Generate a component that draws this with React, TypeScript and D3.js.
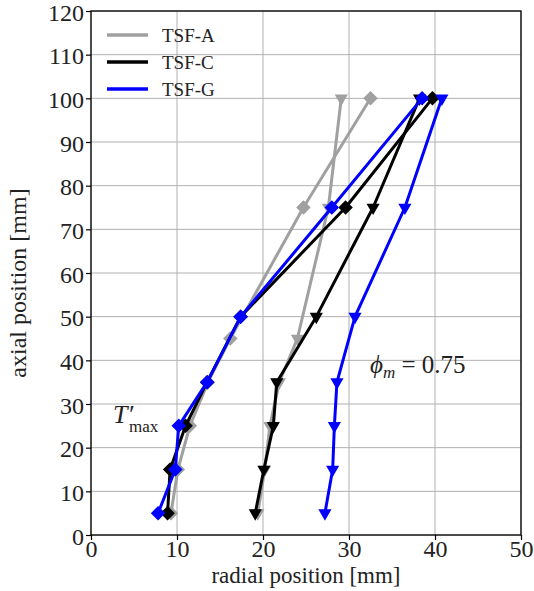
import React, { useRef, useEffect } from "react";
import * as d3 from "d3";

// axial positions [mm]
const axialA = [5, 15, 25, 35, 45, 75, 100];
const axialCG = [5, 15, 25, 35, 50, 75, 100];

// radial positions [mm], diamond = one curve, triangle = the other
const tsfA_diamond = [9.3, 10.1, 11.5, 13.6, 16.2, 24.7, 32.5];
const tsfA_triangle = [19.4, 20.2, 20.8, 21.9, 24.0, 27.6, 29.1];
const tsfC_diamond = [8.9, 9.2, 11.0, 13.5, 17.4, 29.6, 39.7];
const tsfC_triangle = [19.1, 20.1, 21.2, 21.6, 26.2, 32.8, 38.2];
const tsfG_diamond = [7.8, 9.8, 10.2, 13.5, 17.4, 28.0, 38.5];
const tsfG_triangle = [27.2, 28.1, 28.3, 28.6, 30.7, 36.5, 40.8];

const legendNames = ["TSF-A", "TSF-C", "TSF-G"];
const colors = ["#a0a0a0", "#000000", "#0000ff"];
const xTicks = [0, 10, 20, 30, 40, 50];
const yTicks = [0, 10, 20, 30, 40, 50, 60, 70, 80, 90, 100, 110, 120];

const W = 534;
const H = 591;
const margin = { left: 91, right: 13, top: 11, bottom: 56 };
const font = "Liberation Serif, Times New Roman, DejaVu Serif, serif";

const App = () => {
  const svgRef = useRef(null);

  useEffect(() => {
    const svg = d3.select(svgRef.current);
    svg.selectAll("*").remove();

    const x = d3.scaleLinear().domain([0, 50]).range([margin.left, W - margin.right]);
    const y = d3.scaleLinear().domain([0, 120]).range([H - margin.bottom, margin.top]);

    // grid
    const grid = svg.append("g").attr("stroke", "#b0b0b0").attr("stroke-width", 1);
    xTicks.forEach((t) => {
      grid.append("line").attr("x1", x(t)).attr("x2", x(t)).attr("y1", y(0)).attr("y2", y(120));
    });
    yTicks.forEach((t) => {
      grid.append("line").attr("x1", x(0)).attr("x2", x(50)).attr("y1", y(t)).attr("y2", y(t));
    });

    const series = [
      { c: colors[0], ys: axialA, d: tsfA_diamond, t: tsfA_triangle },
      { c: colors[1], ys: axialCG, d: tsfC_diamond, t: tsfC_triangle },
      { c: colors[2], ys: axialCG, d: tsfG_diamond, t: tsfG_triangle },
    ];

    const line = d3
      .line()
      .x((d) => x(d[0]))
      .y((d) => y(d[1]));

    const diamond = d3.symbol().type(d3.symbolSquare).size(105);
    const tri = d3.symbol().type(d3.symbolTriangle).size(75);

    series.forEach((s) => {
      [
        { vals: s.t, sym: tri, rot: 180 },
        { vals: s.d, sym: diamond, rot: 45 },
      ].forEach((curve) => {
        const pts = curve.vals.map((v, i) => [v, s.ys[i]]);
        svg
          .append("path")
          .datum(pts)
          .attr("d", line)
          .attr("fill", "none")
          .attr("stroke", s.c)
          .attr("stroke-width", 3)
          .attr("stroke-linejoin", "round");
        svg
          .append("g")
          .selectAll("path")
          .data(pts)
          .enter()
          .append("path")
          .attr("d", curve.sym)
          .attr("fill", s.c)
          .attr("transform", (d) => `translate(${x(d[0])},${y(d[1])}) rotate(${curve.rot})`);
      });
    });

    // axes
    const xAxis = d3.axisBottom(x).tickValues(xTicks).tickSize(5).tickPadding(0);
    const yAxis = d3.axisLeft(y).tickValues(yTicks).tickSize(5).tickPadding(2);

    const gx = svg.append("g").attr("transform", `translate(0, ${y(0)})`).call(xAxis);
    const gy = svg.append("g").attr("transform", `translate(${x(0)}, 0)`).call(yAxis);
    [gx, gy].forEach((g) => {
      g.attr("font-family", null).attr("font-size", null);
      g.select(".domain").remove();
      g.selectAll("line").attr("stroke", "#000").attr("stroke-width", 1.2);
      g.selectAll("text")
        .style("font-family", font)
        .style("font-size", "24px")
        .attr("fill", "#222");
    });
    gx.selectAll("text").attr("dy", "0.72em");
    gy.selectAll("text").attr("dy", "0.38em");

    svg
      .append("rect")
      .attr("x", x(0))
      .attr("y", y(120))
      .attr("width", x(50) - x(0))
      .attr("height", y(0) - y(120))
      .attr("fill", "none")
      .attr("stroke", "#000")
      .attr("stroke-width", 1.3);

    // axis labels
    svg
      .append("text")
      .attr("x", (x(0) + x(50)) / 2)
      .attr("y", 583)
      .attr("text-anchor", "middle")
      .style("font-family", font)
      .style("font-size", "23px")
      .attr("fill", "#222")
      .text("radial position [mm]");
    svg
      .append("text")
      .attr("transform", `translate(26, ${(y(0) + y(120)) / 2 + 10}) rotate(-90)`)
      .attr("text-anchor", "middle")
      .style("font-family", font)
      .style("font-size", "24px")
      .attr("fill", "#222")
      .text("axial position [mm]");

    // legend
    legendNames.forEach((name, i) => {
      const ly = 35 + i * 27;
      svg
        .append("line")
        .attr("x1", 107)
        .attr("x2", 148)
        .attr("y1", ly)
        .attr("y2", ly)
        .attr("stroke", colors[i])
        .attr("stroke-width", 3.5);
      svg
        .append("text")
        .attr("x", 162)
        .attr("y", ly + 7)
        .style("font-family", font)
        .style("font-size", "19px")
        .attr("fill", "#222")
        .text(name);
    });

    // annotations
    const phi = svg
      .append("text")
      .attr("x", 370)
      .attr("y", 373)
      .style("font-family", font)
      .style("font-size", "25px")
      .attr("fill", "#222");
    phi.append("tspan").attr("font-style", "italic").text("\u03d5");
    phi.append("tspan").attr("font-style", "italic").style("font-size", "17px").attr("dy", 5).text("m");
    phi.append("tspan").attr("dy", -5).text(" = 0.75");

    svg
      .append("text")
      .attr("x", 113)
      .attr("y", 423)
      .style("font-family", font)
      .style("font-size", "26px")
      .style("font-style", "italic")
      .attr("fill", "#222")
      .text("T\u2032");
    svg
      .append("text")
      .attr("x", 129)
      .attr("y", 432)
      .style("font-family", font)
      .style("font-size", "17px")
      .attr("fill", "#222")
      .text("max");
  }, []);

  return (
    <svg
      ref={svgRef}
      width={W}
      height={H}
      style={{ position: "absolute", left: 0, top: 0, background: "#fff" }}
    ></svg>
  );
};

export default App;
